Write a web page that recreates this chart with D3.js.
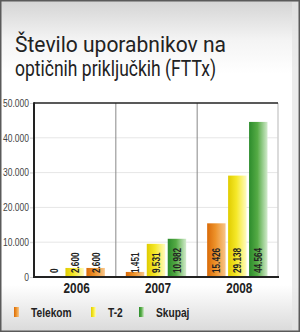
<!DOCTYPE html>
<html>
<head>
<meta charset="utf-8">
<script src="https://cdn.jsdelivr.net/npm/d3@7"></script>
<style>
  html, body { margin: 0; padding: 0; background: #fff; }
  svg { display: block; }
</style>
</head>
<body>
<div id="chart"></div>
<script>
// podatki
var categories = ["2006", "2007", "2008"];
var seriesNames = ["Telekom", "T-2", "Skupaj"];
var telekom = [0, 1451, 15426];
var t2 = [2600, 9531, 29138];
var skupaj = [2600, 10982, 44564];
var yTicks = [0, 10000, 20000, 30000, 40000, 50000];
// v izvirniku je stolpec "Skupaj" za 2006 obarvan oranžno
var skupajColorOverride = { "2006": "Telekom" };

var W = 300, H = 332;
var fmt = function (v) { return d3.format(",")(v).replace(/,/g, "."); };
var font = "'Liberation Sans', Arial, sans-serif";

// zoži besedilo (ni ozke pisave)
function condense(sel, k) {
    sel.each(function () {
        var w = this.getComputedTextLength();
        d3.select(this).attr("textLength", w * k).attr("lengthAdjust", "spacingAndGlyphs");
    });
}

var svg = d3.select("#chart").append("svg").attr("width", W).attr("height", H);
var defs = svg.append("defs");

function grad(id, stops, vertical) {
    var g = defs.append("linearGradient").attr("id", id)
        .attr("x1", 0).attr("y1", 0).attr("x2", vertical ? 0 : 1).attr("y2", vertical ? 1 : 0);
    stops.forEach(function (s) {
        g.append("stop").attr("offset", s[0]).attr("stop-color", s[1]);
    });
}
grad("bg", [[0, "#d4d4d4"], [0.12, "#f4f4f4"], [0.22, "#ffffff"], [0.86, "#ffffff"], [1, "#dadada"]], true);
grad("g-Telekom", [[0, "#d96a08"], [0.45, "#ed922a"], [1, "#f7c58a"]]);
grad("g-T-2", [[0, "#e0cc00"], [0.45, "#f5e828"], [1, "#fffbc0"]]);
grad("g-Skupaj", [[0, "#2c8c2c"], [0.45, "#55ab45"], [1, "#d2ebcc"]]);

// ozadje in okvir
svg.append("rect").attr("x", 0.75).attr("y", 0.75).attr("width", W - 1.5).attr("height", H - 1.5)
    .attr("fill", "url(#bg)").attr("stroke", "#5a5a5a").attr("stroke-width", 1.5);
svg.append("rect").attr("x", 292).attr("y", 2).attr("width", 6).attr("height", H - 4)
    .attr("fill", "#e4e4e4").attr("opacity", 0.7);

// naslov
var title = svg.append("text").attr("x", 15).attr("fill", "#222")
    .attr("font-family", "Roboto, 'Liberation Sans', sans-serif")
    .attr("font-size", 22);
title.append("tspan").attr("x", 15).attr("y", 52).attr("textLength", 211).attr("lengthAdjust", "spacingAndGlyphs")
    .text("Število uporabnikov na");
title.append("tspan").attr("x", 15).attr("y", 76).attr("textLength", 201).attr("lengthAdjust", "spacingAndGlyphs")
    .text("optičnih priključkih (FTTx)");

// lestvice
var pLeft = 34, pRight = 278, pTop = 103, pBottom = 277;
var x = d3.scaleBand().domain(categories).range([pLeft, pRight]);
var xs = d3.scaleBand().domain(seriesNames).range([0, x.bandwidth()]).paddingInner(0.12).paddingOuter(0.5);
var y = d3.scaleLinear().domain([0, 50000]).range([pBottom, pTop]);

var plot = svg.append("g");
plot.append("rect").attr("x", pLeft).attr("y", pTop).attr("width", pRight - pLeft).attr("height", pBottom - pTop)
    .attr("fill", "#fff");

// mreža
plot.selectAll(".grid").data(yTicks.slice(1, -1)).enter().append("line")
    .attr("x1", pLeft - 4).attr("x2", pRight).attr("y1", function (d) { return y(d); }).attr("y2", function (d) { return y(d); })
    .attr("stroke", "#e6e6e6").attr("stroke-width", 1);

// os y
var yAxis = svg.append("g").attr("transform", "translate(" + pLeft + ",0)")
    .call(d3.axisLeft(y).tickValues(yTicks).tickFormat(fmt).tickSize(4).tickPadding(1));
yAxis.select(".domain").remove();
yAxis.selectAll(".tick line").attr("stroke", "#d8d8d8");
yAxis.selectAll(".tick text").attr("fill", "#444").attr("font-size", 10)
    .attr("font-family", font).call(condense, 0.85);

// navpične ločnice
plot.selectAll(".sep").data(categories.slice(1)).enter().append("line")
    .attr("x1", function (d) { return x(d) + 0.5; }).attr("x2", function (d) { return x(d) + 0.5; })
    .attr("y1", pTop).attr("y2", pBottom).attr("stroke", "#888").attr("stroke-width", 1);
plot.append("line").attr("x1", pRight).attr("x2", pRight).attr("y1", pTop).attr("y2", pBottom)
    .attr("stroke", "#cfcfcf").attr("stroke-width", 1.5);

// stolpci
var rows = [];
categories.forEach(function (c, i) {
    [telekom, t2, skupaj].forEach(function (arr, j) {
        var s = seriesNames[j];
        var col = s;
        if (s === "Skupaj" && skupajColorOverride[c]) col = skupajColorOverride[c];
        rows.push({ cat: c, series: s, value: arr[i], color: col });
    });
});

var bars = plot.selectAll(".bar").data(rows).enter().append("g");
bars.append("rect")
    .attr("x", function (d) { return x(d.cat) + xs(d.series); })
    .attr("y", function (d) { return y(d.value); })
    .attr("width", xs.bandwidth())
    .attr("height", function (d) { return pBottom - y(d.value); })
    .attr("fill", function (d) { return "url(#g-" + d.color + ")"; });

bars.append("text")
    .attr("transform", function (d) {
        return "translate(" + (x(d.cat) + xs(d.series) + xs.bandwidth() / 2 + 0.5) + "," + (pBottom - 4) + ") rotate(-90)";
    })
    .attr("dominant-baseline", "central")
    .attr("font-family", font)
    .attr("font-weight", "bold").attr("font-size", 10).attr("fill", "#222")
    .text(function (d) { return fmt(d.value); })
    .call(condense, 0.82);

// okvir grafa
svg.append("line").attr("x1", pLeft).attr("x2", pRight).attr("y1", pTop).attr("y2", pTop)
    .attr("stroke", "#222").attr("stroke-width", 1.5);
svg.append("line").attr("x1", pLeft).attr("x2", pRight + 1).attr("y1", pBottom).attr("y2", pBottom)
    .attr("stroke", "#222").attr("stroke-width", 2);
svg.append("line").attr("x1", pLeft).attr("x2", pLeft).attr("y1", pTop - 0.75).attr("y2", pBottom + 1)
    .attr("stroke", "#222").attr("stroke-width", 2);

// os x
svg.selectAll(".cat").data(categories).enter().append("text")
    .attr("x", function (d) { return x(d) + x.bandwidth() / 2 + 2; })
    .attr("y", 293).attr("text-anchor", "middle")
    .attr("font-family", font)
    .attr("font-weight", "bold").attr("font-size", 14).attr("fill", "#222")
    .text(function (d) { return d; })
    .call(condense, 0.84);

// legenda
var legendX = [14, 91, 139];
var legend = svg.selectAll(".leg").data(seriesNames).enter().append("g")
    .attr("transform", function (d, i) { return "translate(" + legendX[i] + ",307)"; });
legend.append("rect").attr("width", 5).attr("height", 10)
    .attr("fill", function (d) { return "url(#g-" + d + ")"; });
legend.append("text").attr("x", 17).attr("y", 9.5)
    .attr("font-family", font)
    .attr("font-weight", "bold").attr("font-size", 12).attr("fill", "#222")
    .text(function (d) { return d; })
    .call(condense, 0.85);
</script>
</body>
</html>
